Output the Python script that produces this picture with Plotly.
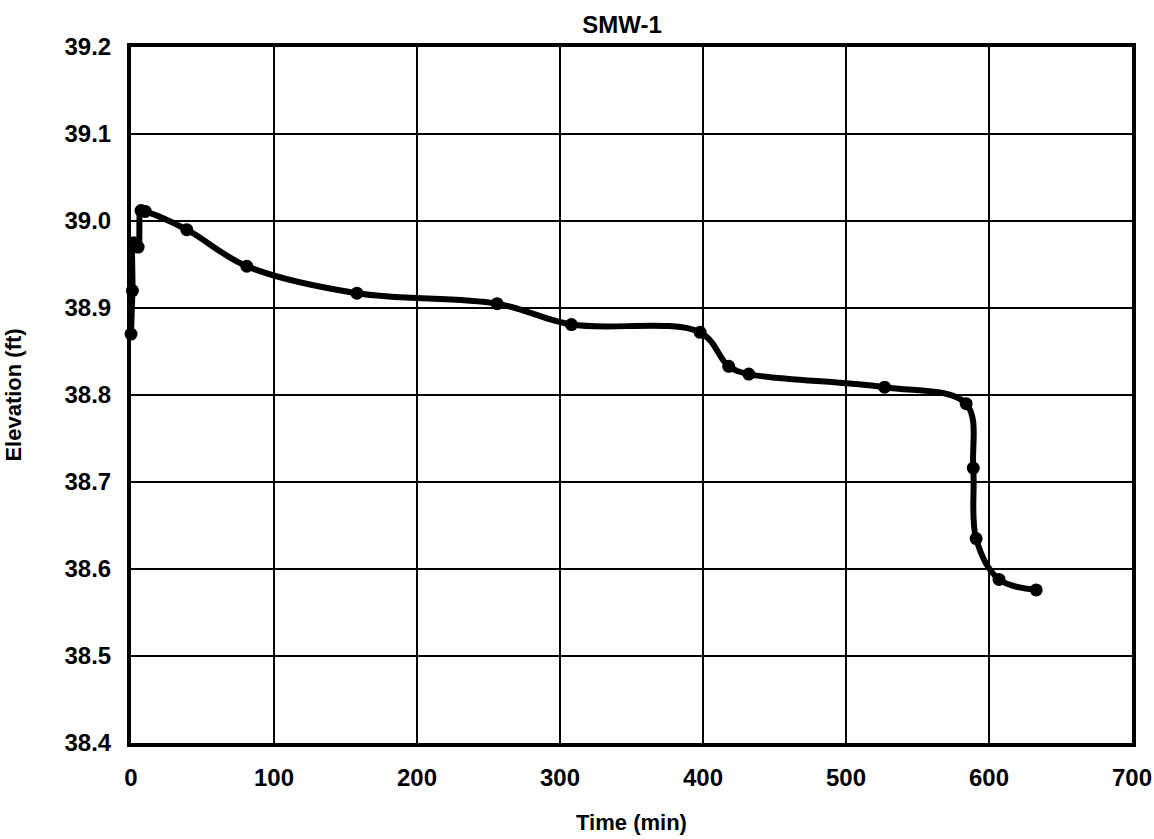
import plotly.graph_objects as go

# Data
time_min = [0, 1, 2, 5, 7, 10, 39, 81, 158, 256, 308, 398, 418, 432, 527, 584, 589, 591, 607, 633]
elevation_ft = [38.87, 38.92, 38.975, 38.97, 39.012, 39.011, 38.99, 38.948, 38.917, 38.905,
                38.881, 38.872, 38.833, 38.824, 38.809, 38.790, 38.716, 38.635, 38.588, 38.576]

x_ticks = [0, 100, 200, 300, 400, 500, 600, 700]
y_ticks = [38.4, 38.5, 38.6, 38.7, 38.8, 38.9, 39.0, 39.1, 39.2]

FONT = "Liberation Sans, Arial, Helvetica, sans-serif"

fig = go.Figure()
fig.add_trace(go.Scatter(
    x=time_min, y=elevation_ft,
    mode="lines+markers",
    line=dict(color="black", width=6, shape="spline", smoothing=1.0),
    marker=dict(color="black", size=13),
    cliponaxis=False,
    showlegend=False,
))

fig.update_layout(
    width=1154, height=839,
    margin=dict(l=131, r=22, t=47, b=96, autoexpand=False),
    paper_bgcolor="white", plot_bgcolor="white",
    font=dict(family=FONT, color="black"),
    title=dict(text="<b>SMW-1</b>", x=0.539, xanchor="center", y=1 - 25 / 839, yanchor="middle",
               font=dict(size=24, family=FONT, color="black")),
    xaxis=dict(
        range=[0, 700], tickvals=x_ticks, ticktext=[str(v) for v in x_ticks],
        showgrid=True, gridcolor="black", gridwidth=2,
        showline=True, linecolor="black", linewidth=4, mirror=True,
        zeroline=False, ticks="", ticklabelstandoff=10, automargin=False,
        tickfont=dict(size=24, family=FONT, color="black", weight="bold"),
        title=dict(text="<b>Time (min)</b>", standoff=26, font=dict(size=22, family=FONT, color="black")),
    ),
    yaxis=dict(
        range=[38.4, 39.2], tickvals=y_ticks, ticktext=[f"{v:.1f}" for v in y_ticks],
        showgrid=True, gridcolor="black", gridwidth=2,
        showline=True, linecolor="black", linewidth=4, mirror=True,
        zeroline=False, ticks="", ticklabelstandoff=11, automargin=False,
        tickfont=dict(size=24, family=FONT, color="black", weight="bold"),
        title=dict(text="<b>Elevation (ft)</b>", standoff=38, font=dict(size=22, family=FONT, color="black")),
    ),
)

fig.write_html("out.html")
